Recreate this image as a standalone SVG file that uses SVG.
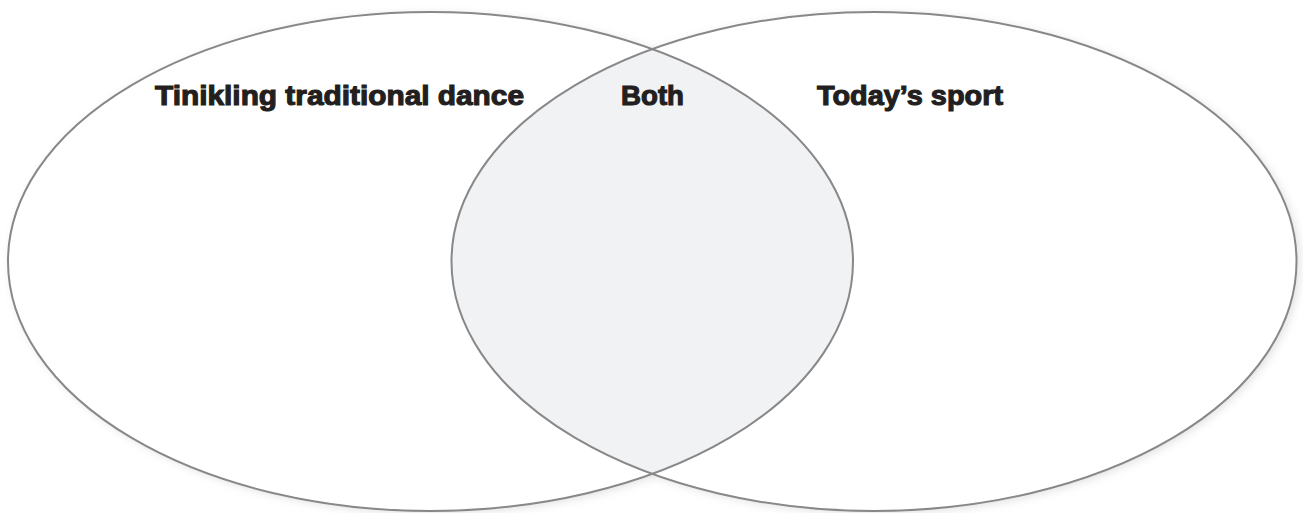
<svg xmlns="http://www.w3.org/2000/svg" width="1303" height="513" viewBox="0 0 1303 513">
  <defs>
    <filter id="sh" x="-5%" y="-5%" width="110%" height="110%">
      <feDropShadow dx="3" dy="2" stdDeviation="5" flood-color="#000" flood-opacity="0.12"/>
    </filter>
    <clipPath id="clipL">
      <ellipse cx="430.5" cy="261.5" rx="422.5" ry="249.5"/>
    </clipPath>
  </defs>
  <style>
    .base { fill: #ffffff; stroke: none; }
    .ring { fill: none; stroke: #88888a; stroke-width: 2; }
    .lap { fill: #f1f2f4; stroke: none; }
    .lbl { font-family: "Liberation Sans", Arial, sans-serif; font-weight: 700; font-size: 27px; fill: #231f20; stroke: #231f20; stroke-width: 1.1; }
  </style>
  <rect width="1303" height="513" fill="#ffffff"/>
  <g id="shadows" filter="url(#sh)">
    <ellipse class="base" cx="430.5" cy="261.5" rx="422.5" ry="249.5"/>
    <ellipse class="base" cx="874" cy="261.5" rx="422.5" ry="249.5"/>
  </g>
  <g id="both">
    <ellipse class="lap" cx="874" cy="261.5" rx="422.5" ry="249.5" clip-path="url(#clipL)"/>
    <text class="lbl" x="621" y="105" textLength="63" lengthAdjust="spacingAndGlyphs">Both</text>
  </g>
  <g id="tinikling">
    <ellipse class="ring" cx="430.5" cy="261.5" rx="422.5" ry="249.5"/>
    <text class="lbl" x="155" y="105" textLength="369" lengthAdjust="spacingAndGlyphs">Tinikling traditional dance</text>
  </g>
  <g id="today">
    <ellipse class="ring" cx="874" cy="261.5" rx="422.5" ry="249.5"/>
    <text class="lbl" x="817" y="105" textLength="186" lengthAdjust="spacingAndGlyphs">Today’s sport</text>
  </g>
</svg>
